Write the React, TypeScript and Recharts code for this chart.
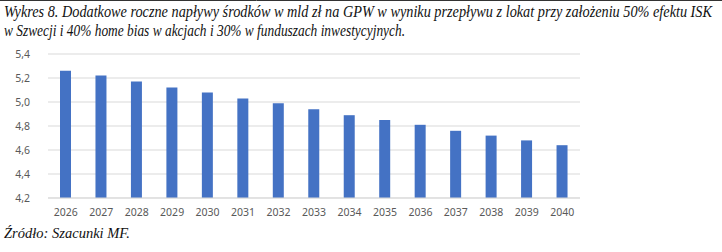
import { BarChart, Bar, XAxis, YAxis, CartesianGrid } from 'recharts';

const years = ['2026', '2027', '2028', '2029', '2030', '2031', '2032', '2033', '2034', '2035', '2036', '2037', '2038', '2039', '2040'];
const inflows = [5.26, 5.22, 5.17, 5.12, 5.08, 5.03, 4.99, 4.94, 4.89, 4.85, 4.81, 4.76, 4.72, 4.68, 4.64];
const yTicks = [4.2, 4.4, 4.6, 4.8, 5.0, 5.2, 5.4];

const titleLines = [
  'Wykres 8. Dodatkowe roczne napływy środków w mld zł na GPW w wyniku przepływu z lokat przy założeniu 50% efektu ISK',
  'w Szwecji i 40% home bias w akcjach i 30% w funduszach inwestycyjnych.',
];
const sourceText = 'Źródło: Szacunki MF.';

const data = years.map((year, i) => ({ year, value: inflows[i] }));

if (typeof document !== 'undefined') document.body.style.margin = '0';

const tickStyle = { fill: '#595959', fontSize: 10.5, fontFamily: "'Noto Sans', sans-serif" };
const serif = "'Liberation Serif', 'Times New Roman', serif";

export default function App() {
  return (
    <div style={{ position: 'relative', width: 722, height: 252, background: '#fff', overflow: 'hidden' }}>
      <BarChart width={722} height={252} data={data} margin={{ top: 54, right: 142, left: 8, bottom: 24 }}>
        <CartesianGrid vertical={false} stroke="#d9d9d9" />
        <XAxis
          dataKey="year"
          tick={tickStyle}
          tickLine={false}
          tickSize={0}
          tickMargin={11}
          axisLine={{ stroke: '#d9d9d9' }}
          interval={0}
          height={30}
        />
        <YAxis
          domain={[4.2, 5.4]}
          ticks={yTicks}
          tick={tickStyle}
          tickLine={false}
          tickSize={0}
          tickMargin={18}
          axisLine={false}
          width={40}
          tickFormatter={(v: number) => v.toFixed(1).replace('.', ',')}
        />
        <Bar dataKey="value" fill="#4472c4" barSize={11} isAnimationActive={false} />
      </BarChart>
      <svg width={722} height={252} style={{ position: 'absolute', left: 0, top: 0, pointerEvents: 'none' }}>
        <line x1={0} y1={0.5} x2={722} y2={0.5} stroke="#333" strokeWidth={1} />
        <text x={4} y={16.5} fontFamily={serif} fontStyle="italic" fontSize={16} fill="#111" textLength={708} lengthAdjust="spacingAndGlyphs">
          {titleLines[0]}
        </text>
        <text x={4} y={36} fontFamily={serif} fontStyle="italic" fontSize={16} fill="#111" textLength={401} lengthAdjust="spacingAndGlyphs">
          {titleLines[1]}
        </text>
        <text x={4} y={238} fontFamily={serif} fontStyle="italic" fontSize={15} fill="#111" textLength={126} lengthAdjust="spacingAndGlyphs">
          {sourceText}
        </text>
      </svg>
    </div>
  );
}
